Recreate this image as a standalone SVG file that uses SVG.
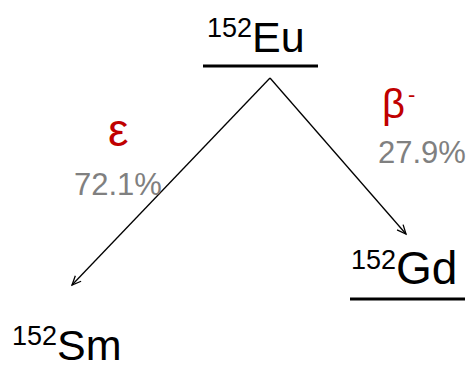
<svg xmlns="http://www.w3.org/2000/svg" width="468" height="373" viewBox="0 0 468 373">
<defs>
<marker id="ah" markerWidth="12" markerHeight="12" refX="10" refY="5" orient="auto" markerUnits="userSpaceOnUse">
<path d="M1,1 L10,5 L1,9" fill="none" stroke="#000" stroke-width="1.3"/>
</marker>
<style>
.nuc{font-family:"Liberation Sans",Arial,sans-serif;fill:#000}
.big{font-size:43px}
.sup{font-size:27px}
.mode{font-family:"Liberation Sans",Arial,sans-serif;fill:#c00000;font-size:40px}
.pct{font-family:"Liberation Sans",Arial,sans-serif;fill:#808080;font-size:31px}
.lvl{stroke:#000;stroke-width:3}
.conn{stroke:#000;stroke-width:1.3;fill:none}
</style>
</defs>
<rect width="468" height="373" fill="#fff"/>
<g id="eu">
<text class="nuc" x="207" y="52"><tspan class="sup" dy="-15">152</tspan><tspan class="big" dy="15">Eu</tspan></text>
<line class="lvl" x1="203" y1="66" x2="318" y2="66"/>
</g>
<g id="gd">
<text class="nuc" x="351" y="284"><tspan class="sup" dy="-15">152</tspan><tspan class="big" dy="15" style="font-size:46px">Gd</tspan></text>
<line class="lvl" x1="350" y1="299" x2="465" y2="299"/>
</g>
<g id="sm">
<text class="nuc" x="12" y="360"><tspan class="sup" dy="-15">152</tspan><tspan class="big" dy="15">Sm</tspan></text>
</g>
<g id="connectors">
<line class="conn" x1="270" y1="78" x2="72" y2="285" marker-end="url(#ah)"/>
<line class="conn" x1="270" y1="78" x2="406" y2="234" marker-end="url(#ah)"/>
</g>
<g id="labels">
<text class="mode" x="108" y="146" style="font-size:46px">ε</text>
<text class="pct" x="74" y="195">72.1%</text>
<text class="mode" x="382" y="118">β<tspan font-size="22" dx="3" dy="-16">-</tspan></text>
<text class="pct" x="378" y="163">27.9%</text>
</g>
</svg>
